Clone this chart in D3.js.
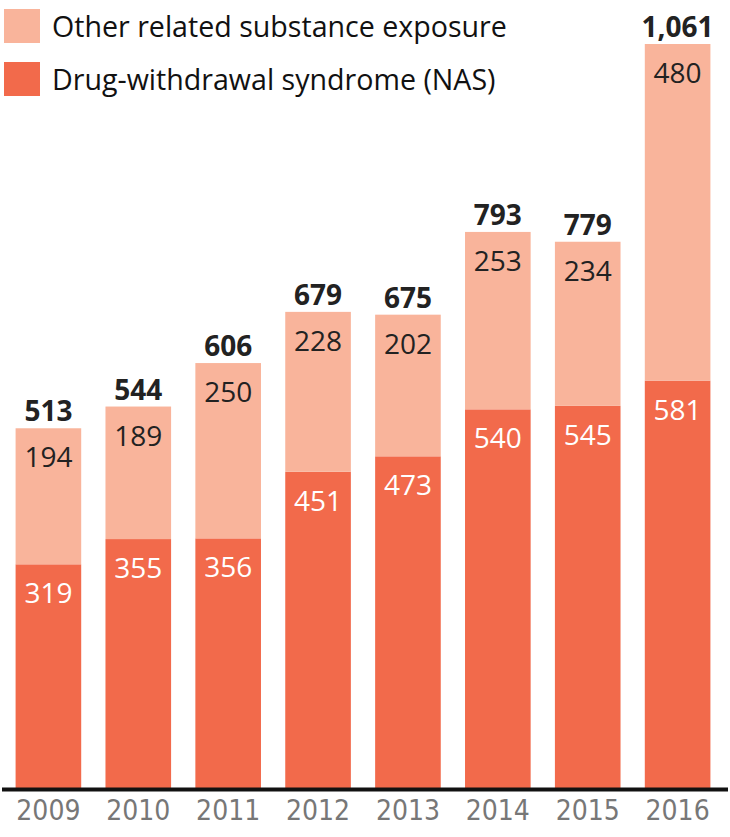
<!DOCTYPE html>
<html>
<head>
<meta charset="utf-8">
<script src="https://cdn.jsdelivr.net/npm/d3@7"></script>
<style>
  body { margin: 0; background: #fff; }
  .chart text { font-family: "Open Sans", "Noto Sans", sans-serif; }
</style>
</head>
<body>
<div class="chart"></div>
<script>
const years = ["2009", "2010", "2011", "2012", "2013", "2014", "2015", "2016"];
const nas = [319, 355, 356, 451, 473, 540, 545, 581];
const other = [194, 189, 250, 228, 202, 253, 234, 480];
const totals = [513, 544, 606, 679, 675, 793, 779, 1061];
const seriesNames = ["Drug-withdrawal syndrome (NAS)", "Other related substance exposure"];

const width = 730, height = 837;
const baseline = 788;

const svg = d3.select(".chart").append("svg")
    .attr("width", width)
    .attr("height", height);

const xScale = d3.scaleBand()
    .domain(years)
    .range([3, 723])
    .paddingInner(0.27)
    .paddingOuter(0.14);

const yScale = d3.scaleLinear()
    .domain([0, 1061])
    .range([baseline, 44]);

const colScale = d3.scaleOrdinal()
    .domain(["nas", "other"])
    .range(["#f26a4b", "#f9b49b"]);

const data = years.map((y, i) => ({year: y, nas: nas[i], other: other[i], total: totals[i]}));
const series = d3.stack().keys(["nas", "other"])(data);

const layers = svg.selectAll(".layer")
    .data(series)
    .join("g")
    .attr("class", "layer")
    .attr("fill", d => colScale(d.key));

layers.selectAll("rect")
    .data(d => d)
    .join("rect")
    .attr("x", d => xScale(d.data.year))
    .attr("width", xScale.bandwidth())
    .attr("y", d => yScale(d[1]))
    .attr("height", d => yScale(d[0]) - yScale(d[1]));

layers.selectAll("text")
    .data(d => d.map(v => ({v, key: d.key})))
    .join("text")
    .attr("x", d => xScale(d.v.data.year) + xScale.bandwidth() / 2)
    .attr("y", d => yScale(d.v[1]) + 39)
    .attr("text-anchor", "middle")
    .attr("font-size", 28)
    .attr("fill", d => d.key === "nas" ? "#fff" : "#222")
    .text(d => d.v.data[d.key]);

svg.selectAll(".total")
    .data(data)
    .join("text")
    .attr("class", "total")
    .attr("x", d => xScale(d.year) + xScale.bandwidth() / 2)
    .attr("y", d => yScale(d.total) - 7)
    .attr("text-anchor", "middle")
    .attr("font-size", 28)
    .attr("font-weight", "bold")
    .attr("fill", "#222")
    .text(d => d3.format(",")(d.total));

const xAxis = d3.axisBottom(xScale).tickSize(0).tickPadding(12);
const ax = svg.append("g")
    .attr("class", "axis x-axis")
    .attr("transform", `translate(0, ${baseline})`)
    .call(xAxis);
ax.select(".domain").remove();
ax.selectAll("text")
    .attr("font-size", 28)
    .attr("fill", "#777")
    .style("font-family", "'Liberation Sans Narrow', 'DejaVu Sans Condensed', sans-serif");

svg.append("line")
    .attr("x1", 2).attr("x2", 728)
    .attr("y1", baseline + 1.5).attr("y2", baseline + 1.5)
    .attr("stroke", "#111")
    .attr("stroke-width", 4);

// legend
const legend = svg.append("g").attr("class", "legend");
const legendItems = [seriesNames[1], seriesNames[0]];
const legendKeys = ["other", "nas"];
legend.selectAll("rect")
    .data(legendKeys)
    .join("rect")
    .attr("x", 4)
    .attr("y", (d, i) => 9 + i * 53)
    .attr("width", 36)
    .attr("height", 34)
    .attr("fill", d => colScale(d));
legend.selectAll("text")
    .data(legendItems)
    .join("text")
    .attr("x", 52)
    .attr("y", (d, i) => 37 + i * 53)
    .attr("font-size", 28.6)
    .attr("fill", "#111")
    .text(d => d);
</script>
</body>
</html>
